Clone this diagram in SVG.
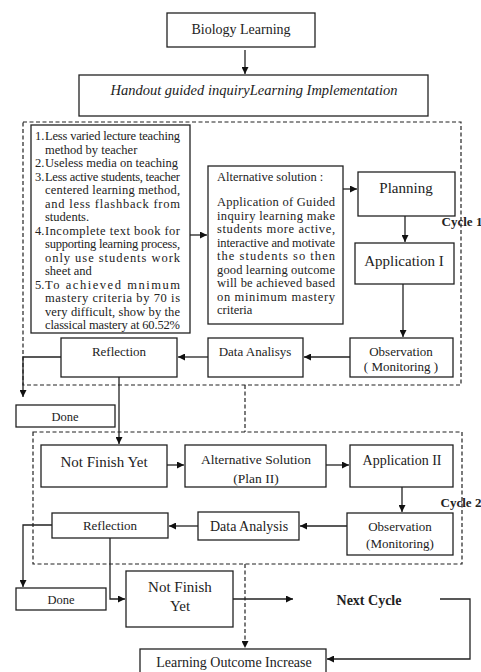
<svg xmlns="http://www.w3.org/2000/svg" width="481" height="672" viewBox="0 0 481 672" font-family="'Liberation Serif', 'DejaVu Serif', serif">
<style>
.b{fill:#fff;stroke:#222;stroke-width:1.3}
.t{font-family:'Liberation Serif','DejaVu Serif',serif;fill:#222;text-anchor:middle}
.l{font-family:'Liberation Serif','DejaVu Serif',serif;fill:#222;font-size:12.5px}
.a{fill:none;stroke:#222;stroke-width:1.3}
.d{fill:none;stroke:#222;stroke-width:1.2;stroke-dasharray:4 2.5}
</style>
<defs>
<marker id="ar" viewBox="0 0 8 8" refX="8" refY="4" markerWidth="7" markerHeight="7" markerUnits="userSpaceOnUse" orient="auto"><path d="M0,0 L8,4 L0,8 z" fill="#111"/></marker>
</defs>
<rect width="481" height="672" fill="#fff"/>
<g id="cycles">
<rect class="d" x="23" y="122" width="438" height="263"/>
<rect class="d" x="33" y="432" width="429" height="132"/>
<text class="t" x="462" y="226" font-size="13" font-weight="bold">Cycle 1</text>
<text class="t" x="461" y="507" font-size="13" font-weight="bold">Cycle 2</text>
</g>
<g id="n1"><rect class="b" x="167" y="13" width="148" height="34"/><text class="t" x="241" y="34" font-size="14">Biology Learning</text></g>
<g id="n2"><rect class="b" x="79" y="75" width="349" height="41"/><text class="t" x="254" y="95" font-size="14.5" font-style="italic">Handout guided inquiryLearning Implementation</text></g>
<g id="n3"><rect class="b" x="31" y="125" width="159" height="208"/>
<text class="l" x="35" y="140">1.</text><text class="l" x="45" y="140" textLength="135" lengthAdjust="spacing">Less varied lecture teaching</text>
<text class="l" x="45" y="153.5">method by teacher</text>
<text class="l" x="35" y="167">2.</text><text class="l" x="45" y="167">Useless media on teaching</text>
<text class="l" x="35" y="180.5">3.</text><text class="l" x="45" y="180.5" textLength="135" lengthAdjust="spacing">Less active students, teacher</text>
<text class="l" x="45" y="194" textLength="135" lengthAdjust="spacing">centered learning method,</text>
<text class="l" x="45" y="207.5" textLength="135" lengthAdjust="spacing">and less flashback from</text>
<text class="l" x="45" y="221">students.</text>
<text class="l" x="35" y="234.5">4.</text><text class="l" x="45" y="234.5" textLength="135" lengthAdjust="spacing">Incomplete text book for</text>
<text class="l" x="45" y="248" textLength="135" lengthAdjust="spacing">supporting learning process,</text>
<text class="l" x="45" y="261.5" textLength="135" lengthAdjust="spacing">only use students work</text>
<text class="l" x="45" y="275">sheet and</text>
<text class="l" x="35" y="288.5">5.</text><text class="l" x="45" y="288.5" textLength="135" lengthAdjust="spacing">To achieved mnimum</text>
<text class="l" x="45" y="302" textLength="135" lengthAdjust="spacing">mastery criteria by 70 is</text>
<text class="l" x="45" y="315.5" textLength="135" lengthAdjust="spacing">very difficult, show by the</text>
<text class="l" x="45" y="329" textLength="135" lengthAdjust="spacing">classical mastery at 60.52%</text>
</g>
<g id="n4"><rect class="b" x="208" y="166" width="135" height="158"/>
<text class="l" x="217" y="181" font-size="12">Alternative solution :</text>
<text class="l" x="217" y="206" font-size="12" textLength="118" lengthAdjust="spacing">Application of Guided</text>
<text class="l" x="217" y="219.5" font-size="12" textLength="118" lengthAdjust="spacing">inquiry learning make</text>
<text class="l" x="217" y="233" font-size="12" textLength="118" lengthAdjust="spacing">students more active,</text>
<text class="l" x="217" y="246.5" font-size="12" textLength="118" lengthAdjust="spacing">interactive and motivate</text>
<text class="l" x="217" y="260" font-size="12" textLength="118" lengthAdjust="spacing">the students so then</text>
<text class="l" x="217" y="273.5" font-size="12" textLength="118" lengthAdjust="spacing">good learning outcome</text>
<text class="l" x="217" y="287" font-size="12" textLength="118" lengthAdjust="spacing">will be achieved based</text>
<text class="l" x="217" y="300.5" font-size="12" textLength="118" lengthAdjust="spacing">on minimum mastery</text>
<text class="l" x="217" y="314" font-size="12">criteria</text>
</g>
<g id="n5"><rect class="b" x="358" y="172" width="97" height="44"/><text class="t" x="406" y="193" font-size="15">Planning</text></g>
<g id="n6"><rect class="b" x="355" y="243" width="99" height="41"/><text class="t" x="404" y="266" font-size="15">Application I</text></g>
<g id="n7"><rect class="b" x="350" y="338" width="103" height="39"/><text class="t" x="401" y="356" font-size="13">Observation</text><text class="t" x="401" y="371" font-size="13">( Monitoring )</text></g>
<g id="n8"><rect class="b" x="208" y="338" width="95" height="39"/><text class="t" x="255" y="356" font-size="13">Data Analisys</text></g>
<g id="n9"><rect class="b" x="61" y="338" width="116" height="39"/><text class="t" x="119" y="356" font-size="13">Reflection</text></g>
<g id="n10"><rect class="b" x="16" y="405" width="99" height="22"/><text class="t" x="65" y="421" font-size="12.5">Done</text></g>
<g id="n11"><rect class="b" x="41" y="445" width="126" height="42"/><text class="t" x="104" y="467" font-size="15">Not Finish Yet</text></g>
<g id="n12"><rect class="b" x="185" y="445" width="141" height="42"/><text class="t" x="256" y="464" font-size="13.5">Alternative Solution</text><text class="t" x="256" y="483" font-size="13.5">(Plan II)</text></g>
<g id="n13"><rect class="b" x="350" y="445" width="103" height="42"/><text class="t" x="402" y="465" font-size="14">Application II</text></g>
<g id="n14"><rect class="b" x="347" y="513" width="106" height="42"/><text class="t" x="400" y="531" font-size="13">Observation</text><text class="t" x="400" y="548" font-size="13">(Monitoring)</text></g>
<g id="n15"><rect class="b" x="198" y="512" width="101" height="28"/><text class="t" x="249" y="531" font-size="14">Data Analysis</text></g>
<g id="n16"><rect class="b" x="52" y="513" width="116" height="25"/><text class="t" x="110" y="530" font-size="13">Reflection</text></g>
<g id="n17"><rect class="b" x="16" y="588" width="90" height="22"/><text class="t" x="61" y="604" font-size="12.5">Done</text></g>
<g id="n18"><rect class="b" x="126" y="571" width="107" height="56"/><text class="t" x="180" y="592" font-size="15">Not Finish</text><text class="t" x="180" y="611" font-size="15">Yet</text></g>
<g id="n19"><text class="t" x="369" y="605" font-size="14" font-weight="bold">Next Cycle</text></g>
<g id="n20"><rect class="b" x="140" y="649" width="186" height="30"/><text class="t" x="234" y="667" font-size="14">Learning Outcome Increase</text></g>
<g id="connectors">
<path class="a" d="M245,50 V74" marker-end="url(#ar)"/>
<path class="a" d="M190,235 H207" marker-end="url(#ar)"/>
<path class="a" d="M343,189 H357" marker-end="url(#ar)"/>
<path class="a" d="M405,216 V242" marker-end="url(#ar)"/>
<path class="a" d="M403,284 V337" marker-end="url(#ar)"/>
<path class="a" d="M350,357 H304" marker-end="url(#ar)"/>
<path class="a" d="M208,357 H178" marker-end="url(#ar)"/>
<path class="a" d="M61,357 H23 V397" marker-end="url(#ar)"/>
<path class="a" d="M119,377 V444" marker-end="url(#ar)"/>
<path class="d" d="M245,385 V432"/>
<path class="a" d="M167,465 H184" marker-end="url(#ar)"/>
<path class="a" d="M326,465 H349" marker-end="url(#ar)"/>
<path class="a" d="M402,487 V512" marker-end="url(#ar)"/>
<path class="a" d="M347,526 H300" marker-end="url(#ar)"/>
<path class="a" d="M198,526 H169" marker-end="url(#ar)"/>
<path class="a" d="M52,525 H23 V587" marker-end="url(#ar)"/>
<path class="a" d="M110,538 V599 H125" marker-end="url(#ar)"/>
<path class="a" d="M233,599 H293" marker-end="url(#ar)"/>
<path class="a" d="M440,599 H470 V659 H327" marker-end="url(#ar)"/>
<path class="d" d="M245,564 V648" marker-end="url(#ar)"/>
</g>
</svg>
